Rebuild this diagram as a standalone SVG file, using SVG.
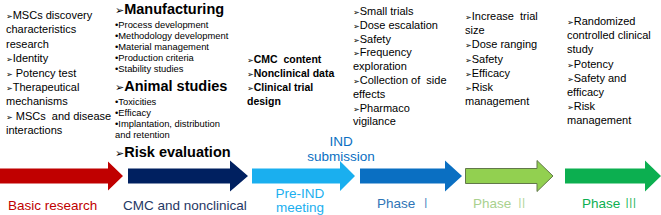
<svg xmlns="http://www.w3.org/2000/svg" width="661" height="215" viewBox="0 0 661 215">
<style>
text{font-family:"Liberation Sans",Arial,sans-serif;fill:#000}
.t{font-size:11px}
.s{font-size:9.4px}
.h{font-size:14.5px;font-weight:bold}
.b{font-size:10.5px;font-weight:bold}
.ar{font-family:"DejaVu Sans",sans-serif;font-size:8px;font-weight:normal}
.arh{font-family:"DejaVu Sans",sans-serif;font-size:11px;font-weight:normal}
.lab{font-size:13.5px}
.cjk{font-family:"Noto Sans CJK SC",sans-serif;font-weight:300}
</style>
<g id="connectors">
<polygon fill="#C00000" points="0,168.5 108,168.5 108,161.5 123,176 108,190.5 108,183.5 0,183.5"/>
<polygon fill="#002060" points="128,168.5 230,168.5 230,160.5 248,176 230,191.5 230,183.5 128,183.5"/>
<polygon fill="#1AAFEF" points="252,168.5 340,168.5 340,161 355,176 340,191 340,183.5 252,183.5"/>
<polygon fill="#0A6FC2" points="360,168.5 445,168.5 445,160.5 462,176 445,191.5 445,183.5 360,183.5"/>
<polygon fill="#92D050" stroke="#62784A" stroke-width="1" points="465.5,168.5 537,168.5 537,160.5 553,176 537,191.5 537,183.5 465.5,183.5"/>
<polygon fill="#0CAF50" points="565,168.5 645,168.5 645,160.5 661,176 645,191.5 645,183.5 565,183.5"/>
</g>
<g id="basic-research">
<text class="t" x="6" y="19"><tspan class="ar">➢</tspan>MSCs discovery</text>
<text class="t" x="6" y="33.4">characteristics</text>
<text class="t" x="6" y="47.8">research</text>
<text class="t" x="6" y="62.2"><tspan class="ar">➢</tspan>Identity</text>
<text class="t" x="6" y="76.6" xml:space="preserve"><tspan class="ar">➢</tspan> Potency test</text>
<text class="t" x="6" y="91"><tspan class="ar">➢</tspan>Therapeutical</text>
<text class="t" x="6" y="105.4">mechanisms</text>
<text class="t" x="6" y="119.8" xml:space="preserve"><tspan class="ar">➢</tspan> MSCs  and disease</text>
<text class="t" x="6" y="134.2">interactions</text>
<text class="lab" x="8" y="210" style="fill:#C00000">Basic research</text>
</g>
<g id="cmc-nonclinical">
<text class="h" x="115" y="14"><tspan class="arh">➢</tspan>Manufacturing</text>
<text class="s" x="115" y="28">•Process  development</text>
<text class="s" x="115" y="39">•Methodology development</text>
<text class="s" x="115" y="50">•Material management</text>
<text class="s" x="115" y="61">•Production criteria</text>
<text class="s" x="115" y="72">•Stability studies</text>
<text class="h" x="115" y="91"><tspan class="arh">➢</tspan>Animal studies</text>
<text class="s" x="115" y="105">•Toxicities</text>
<text class="s" x="115" y="116">•Efficacy</text>
<text class="s" x="115" y="127">•Implantation, distribution</text>
<text class="s" x="115" y="138">and retention</text>
<text class="h" x="115" y="157"><tspan class="arh">➢</tspan>Risk evaluation</text>
<text class="lab" x="123" y="210" style="fill:#1F3864">CMC and nonclinical</text>
</g>
<g id="pre-ind">
<text class="b" x="247" y="63" xml:space="preserve"><tspan class="ar">➢</tspan>CMC  content</text>
<text class="b" x="247" y="77"><tspan class="ar">➢</tspan>Nonclinical data</text>
<text class="b" x="247" y="91"><tspan class="ar">➢</tspan>Clinical trial</text>
<text class="b" x="247" y="105">design</text>
<text class="lab" x="300" y="198" text-anchor="middle" style="fill:#1AAFEF">Pre-IND</text>
<text class="lab" x="300" y="212" text-anchor="middle" style="fill:#1AAFEF">meeting</text>
</g>
<g id="ind-submission">
<text class="lab" x="341" y="146" text-anchor="middle" style="fill:#0A6FC2">IND</text>
<text class="lab" x="341" y="161" text-anchor="middle" style="fill:#0A6FC2">submission</text>
</g>
<g id="phase-1">
<text class="t" x="353" y="15"><tspan class="ar">➢</tspan>Small trials</text>
<text class="t" x="353" y="28.8"><tspan class="ar">➢</tspan>Dose escalation</text>
<text class="t" x="353" y="42.6"><tspan class="ar">➢</tspan>Safety</text>
<text class="t" x="353" y="56.4"><tspan class="ar">➢</tspan>Frequency</text>
<text class="t" x="353" y="70.2">exploration</text>
<text class="t" x="353" y="84" xml:space="preserve"><tspan class="ar">➢</tspan>Collection of  side</text>
<text class="t" x="353" y="97.8">effects</text>
<text class="t" x="353" y="111.6"><tspan class="ar">➢</tspan>Pharmaco</text>
<text class="t" x="353" y="125.4">vigilance</text>
<text class="lab" x="377" y="208" style="fill:#2E75B6">Phase <tspan class="cjk">Ⅰ</tspan></text>
</g>
<g id="phase-2">
<text class="t" x="465" y="20" xml:space="preserve"><tspan class="ar">➢</tspan>Increase  trial</text>
<text class="t" x="465" y="34.2">size</text>
<text class="t" x="465" y="48.4"><tspan class="ar">➢</tspan>Dose ranging</text>
<text class="t" x="465" y="62.6"><tspan class="ar">➢</tspan>Safety</text>
<text class="t" x="465" y="76.8"><tspan class="ar">➢</tspan>Efficacy</text>
<text class="t" x="465" y="91"><tspan class="ar">➢</tspan>Risk</text>
<text class="t" x="465" y="105.2">management</text>
<text class="lab" x="473" y="208" style="fill:#A9D18E">Phase <tspan class="cjk">Ⅱ</tspan></text>
</g>
<g id="phase-3">
<text class="t" x="567" y="25"><tspan class="ar">➢</tspan>Randomized</text>
<text class="t" x="567" y="39.2">controlled clinical</text>
<text class="t" x="567" y="53.4">study</text>
<text class="t" x="567" y="67.6"><tspan class="ar">➢</tspan>Potency</text>
<text class="t" x="567" y="81.8"><tspan class="ar">➢</tspan>Safety and</text>
<text class="t" x="567" y="96">efficacy</text>
<text class="t" x="567" y="110.2"><tspan class="ar">➢</tspan>Risk</text>
<text class="t" x="567" y="124.4">management</text>
<text class="lab" x="582" y="208" style="fill:#0CAF50">Phase <tspan class="cjk">Ⅲ</tspan></text>
</g>
</svg>
